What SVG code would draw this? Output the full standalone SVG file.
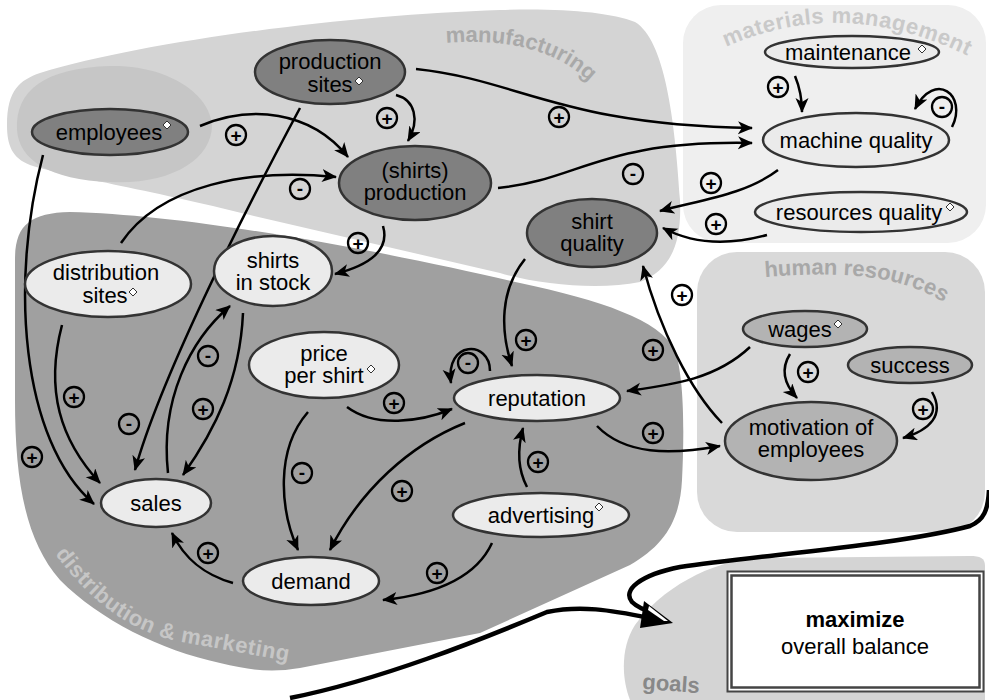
<svg xmlns="http://www.w3.org/2000/svg" xmlns:xlink="http://www.w3.org/1999/xlink" width="989" height="700" viewBox="0 0 989 700">
<style>
.node ellipse{stroke:#333;stroke-width:2.5}
.dark ellipse{fill:#808080}
.light ellipse{fill:#ebebeb}
.hr ellipse{fill:#b3b3b3}
.node text{font-family:"Liberation Sans",Arial,sans-serif;font-size:22px;fill:#000;text-anchor:middle}
.dia{fill:#fff;stroke:#333;stroke-width:1}
.conn path{fill:none;stroke:#000;stroke-width:2.5;marker-end:url(#ah)}
.lbl circle{fill:none;stroke:#000;stroke-width:2.3}
.lbl text{font-family:"Liberation Sans",Arial,sans-serif;font-size:19px;font-weight:bold;text-anchor:middle}
.glabel{font-family:"Liberation Sans",Arial,sans-serif;font-size:22px;font-weight:bold}
</style>
<defs>
<marker id="ah" markerUnits="userSpaceOnUse" markerWidth="18" markerHeight="14" refX="14" refY="6.5" orient="auto">
<path d="M0,0 L15,6.5 L0,13 L4,6.5 Z" fill="#000"/>
</marker>
<polygon id="dm" points="0,-4 4,0 0,4 -4,0"/>
<path id="pManu" d="M446,43 C500,39 565,45 605,100"/>
<path id="pMat" d="M726,47 Q845,-6 972,58"/>
<path id="pHR" d="M765,277 C830,272 910,270 960,315"/>
<path id="pDist" d="M55,554 C88,598 127,633 187,643 L298,663"/>
</defs>
<rect width="989" height="700" fill="#fff"/>
<g id="regions">
<path id="manufacturing" fill="#d4d4d4" d="M7,125 C7,90 20,80 40,73 C150,40 350,15 500,10 C560,8 610,12 635,22 C665,40 675,120 680,200 C682,245 670,270 640,282 C600,290 540,285 500,273 L250,215 C150,190 60,175 30,165 C12,158 7,145 7,125 Z"/>
<path id="emp-lobe" fill="#c6c6c6" d="M17,130 C15,90 45,68 110,66 C170,65 210,95 212,125 C212,160 170,185 110,182 C50,180 19,160 17,130 Z"/>
<path id="distribution" fill="#a0a0a0" d="M15,260 C15,225 30,213 70,212 C200,215 400,255 520,283 C600,300 660,320 675,350 C685,380 684,440 682,480 C680,520 665,545 630,565 L480,633 L300,668 C270,673 250,670 220,663 C160,650 100,620 60,580 C25,540 15,480 15,400 Z"/>
<rect id="materials" x="683" y="5" width="303" height="238" rx="38" fill="#efefef"/>
<rect id="humanres" x="697" y="252" width="288" height="280" rx="40" fill="#d9d9d9"/>
<path id="goalsreg" fill="#d4d4d4" d="M985,700 L985,566 C985,558 980,556 970,556 L760,558 C710,560 660,590 635,625 C620,648 622,680 630,700 Z"/>
<text class="glabel" fill="#a9a9a9"><textPath xlink:href="#pManu">manufacturing</textPath></text>
<text class="glabel" fill="#c9c9c9" letter-spacing="0.6"><textPath xlink:href="#pMat">materials management</textPath></text>
<text class="glabel" fill="#a8a8a8"><textPath xlink:href="#pHR">human resources</textPath></text>
<text class="glabel" fill="#c6c6c6" letter-spacing="0.5"><textPath xlink:href="#pDist">distribution &amp; marketing</textPath></text>
<text class="glabel" fill="#888" x="642" y="689" transform="rotate(4 642 689)">goals</text>
</g>
<g id="connectors" class="conn">
<path d="M200,126 C250,105 310,110 348,157"/>
<path d="M396,95 C415,100 420,120 408,141"/>
<path d="M121,243 C160,185 250,168 336,177"/>
<path d="M300,108 C240,220 160,380 135,470"/>
<path d="M43,155 C10,280 20,440 94,504"/>
<path d="M62,325 C45,390 60,440 100,483"/>
<path d="M168,473 C160,400 190,340 230,306"/>
<path d="M243,313 C240,380 215,430 183,475"/>
<path d="M383,226 C390,250 370,265 335,274"/>
<path d="M416,69 C520,80 560,125 752,128"/>
<path d="M498,188 C580,180 600,140 752,143"/>
<path d="M795,76 C800,88 802,98 802,112"/>
<path d="M952,127 C968,95 935,70 915,109"/>
<path d="M778,170 C745,195 700,200 660,211"/>
<path d="M767,235 C730,245 695,245 663,228"/>
<path d="M525,259 C500,290 500,330 512,366"/>
<path d="M722,423 C690,390 660,330 643,266"/>
<path d="M750,347 C715,380 670,385 627,391"/>
<path d="M597,426 C625,455 670,455 720,446"/>
<path d="M790,354 C780,370 785,385 797,398"/>
<path d="M932,392 C945,415 930,430 903,438"/>
<path d="M490,371 C490,340 445,340 451,383"/>
<path d="M347,407 C375,428 420,422 452,409"/>
<path d="M308,412 C275,450 280,510 298,550"/>
<path d="M465,423 C410,445 360,490 330,550"/>
<path d="M527,487 C518,470 517,450 523,428"/>
<path d="M492,543 C475,580 430,595 383,600"/>
<path d="M233,583 C205,575 185,560 172,533"/>
<path style="stroke-width:4.5;marker-end:none" d="M989,490 C988,510 984,520 970,526 C900,545 760,555 680,567 C640,575 622,590 632,602 C638,608 645,610 652,612"/>
<path style="stroke-width:4.5;marker-end:none" d="M290,698 C380,680 480,640 547,612 C580,605 610,610 650,618"/>
<polygon points="673,623 644,601 640,628" fill="#000"/>
<polygon points="649,606 668,621 664,621 648,610" fill="#fff"/>
</g>
<g id="n-production-sites" class="node dark"><ellipse cx="330" cy="72" rx="75" ry="32"/><text x="330" y="69">production</text><text x="330" y="92">sites</text><use href="#dm" class="dia" x="359" y="81"/></g>
<g id="n-employees" class="node dark"><ellipse cx="110" cy="132" rx="78" ry="23"/><text x="109" y="140">employees</text><use href="#dm" class="dia" x="167" y="125"/></g>
<g id="n-production" class="node dark"><ellipse cx="415" cy="183" rx="76" ry="37"/><text x="415" y="178">(shirts)</text><text x="415" y="200">production</text></g>
<g id="n-shirt-quality" class="node dark"><ellipse cx="592" cy="233" rx="65" ry="34"/><text x="592" y="229">shirt</text><text x="592" y="251">quality</text></g>
<g id="n-maintenance" class="node light"><ellipse cx="852" cy="52" rx="87" ry="16"/><text x="848" y="60">maintenance</text><use href="#dm" class="dia" x="922" y="49"/></g>
<g id="n-machine-quality" class="node light"><ellipse cx="856" cy="140" rx="93" ry="27"/><text x="856" y="148">machine quality</text></g>
<g id="n-resources-quality" class="node light"><ellipse cx="861" cy="212" rx="106" ry="20"/><text x="859" y="220">resources quality</text><use href="#dm" class="dia" x="950" y="207"/></g>
<g id="n-distribution-sites" class="node light"><ellipse cx="108" cy="284" rx="83" ry="33"/><text x="106" y="280">distribution</text><text x="105" y="303">sites</text><use href="#dm" class="dia" x="133" y="292"/></g>
<g id="n-shirts-in-stock" class="node light"><ellipse cx="273" cy="271" rx="59" ry="35"/><text x="273" y="268">shirts</text><text x="273" y="290">in stock</text></g>
<g id="n-price" class="node light"><ellipse cx="324" cy="365" rx="75" ry="33"/><text x="324" y="361">price</text><text x="324" y="383">per shirt</text><use href="#dm" class="dia" x="371" y="369"/></g>
<g id="n-reputation" class="node light"><ellipse cx="537" cy="398" rx="83" ry="23"/><text x="537" y="406">reputation</text></g>
<g id="n-advertising" class="node light"><ellipse cx="541" cy="515" rx="88" ry="22"/><text x="541" y="523">advertising</text><use href="#dm" class="dia" x="599" y="507"/></g>
<g id="n-sales" class="node light"><ellipse cx="156" cy="503" rx="55" ry="24"/><text x="156" y="511">sales</text></g>
<g id="n-demand" class="node light"><ellipse cx="311" cy="581" rx="68" ry="24"/><text x="311" y="589">demand</text></g>
<g id="n-wages" class="node hr"><ellipse cx="805" cy="329" rx="62" ry="18"/><text x="800" y="337">wages</text><use href="#dm" class="dia" x="838" y="324"/></g>
<g id="n-success" class="node hr"><ellipse cx="910" cy="365" rx="62" ry="18"/><text x="910" y="373">success</text></g>
<g id="n-motivation" class="node hr"><ellipse cx="811" cy="441" rx="86" ry="39"/><text x="811" y="435">motivation of</text><text x="811" y="457">employees</text></g>
<g id="n-goal">
<rect x="727.5" y="571.5" width="256" height="120" fill="#fff" stroke="#444" stroke-width="2"/>
<rect x="731.5" y="575.5" width="248" height="112" fill="#fff" stroke="#444" stroke-width="2.5"/>
<text x="855" y="627" font-family="Liberation Sans,Arial,sans-serif" font-size="22" font-weight="bold" text-anchor="middle">maximize</text>
<text x="855" y="654" font-family="Liberation Sans,Arial,sans-serif" font-size="22" text-anchor="middle">overall balance</text>
</g>
<g id="labels">
<g class="lbl" transform="translate(236,135)"><circle r="10"/><text y="6.5">+</text></g>
<g class="lbl" transform="translate(387,118)"><circle r="10"/><text y="6.5">+</text></g>
<g class="lbl" transform="translate(300,189)"><circle r="10"/><text y="6">-</text></g>
<g class="lbl" transform="translate(358,243)"><circle r="10"/><text y="6.5">+</text></g>
<g class="lbl" transform="translate(559,117)"><circle r="10"/><text y="6.5">+</text></g>
<g class="lbl" transform="translate(633,174)"><circle r="10"/><text y="6">-</text></g>
<g class="lbl" transform="translate(778,87)"><circle r="10"/><text y="6.5">+</text></g>
<g class="lbl" transform="translate(942,107)"><circle r="10"/><text y="6">-</text></g>
<g class="lbl" transform="translate(711,183)"><circle r="10"/><text y="6.5">+</text></g>
<g class="lbl" transform="translate(716,224)"><circle r="10"/><text y="6.5">+</text></g>
<g class="lbl" transform="translate(74,397)"><circle r="10"/><text y="6.5">+</text></g>
<g class="lbl" transform="translate(129,424)"><circle r="10"/><text y="6">-</text></g>
<g class="lbl" transform="translate(208,356)"><circle r="10"/><text y="6">-</text></g>
<g class="lbl" transform="translate(203,409)"><circle r="10"/><text y="6.5">+</text></g>
<g class="lbl" transform="translate(32,457)"><circle r="10"/><text y="6.5">+</text></g>
<g class="lbl" transform="translate(394,403)"><circle r="10"/><text y="6.5">+</text></g>
<g class="lbl" transform="translate(468,363)"><circle r="10"/><text y="6">-</text></g>
<g class="lbl" transform="translate(526,340)"><circle r="10"/><text y="6.5">+</text></g>
<g class="lbl" transform="translate(653,350)"><circle r="10"/><text y="6.5">+</text></g>
<g class="lbl" transform="translate(682,295)"><circle r="10"/><text y="6.5">+</text></g>
<g class="lbl" transform="translate(653,433)"><circle r="10"/><text y="6.5">+</text></g>
<g class="lbl" transform="translate(808,372)"><circle r="10"/><text y="6.5">+</text></g>
<g class="lbl" transform="translate(923,409)"><circle r="10"/><text y="6.5">+</text></g>
<g class="lbl" transform="translate(302,473)"><circle r="10"/><text y="6">-</text></g>
<g class="lbl" transform="translate(402,491)"><circle r="10"/><text y="6.5">+</text></g>
<g class="lbl" transform="translate(538,462)"><circle r="10"/><text y="6.5">+</text></g>
<g class="lbl" transform="translate(437,573)"><circle r="10"/><text y="6.5">+</text></g>
<g class="lbl" transform="translate(208,553)"><circle r="10"/><text y="6.5">+</text></g>
</g>
</svg>
